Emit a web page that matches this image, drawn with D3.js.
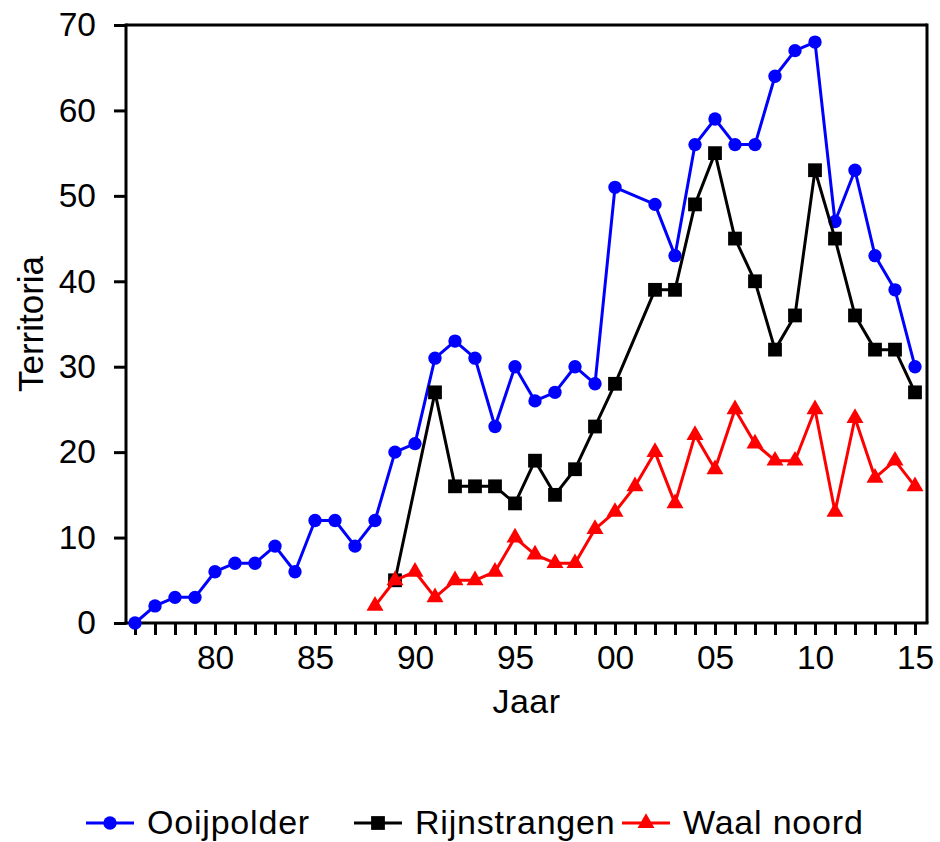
<!DOCTYPE html>
<html>
<head>
<meta charset="utf-8">
<script src="https://cdn.jsdelivr.net/npm/d3@7"></script>
<style>
html,body{margin:0;padding:0;background:#fff;}
svg{display:block;font-family:"Liberation Sans",Arial,sans-serif;}
</style>
</head>
<body>
<svg id="chart" width="940" height="842"></svg>
<script>
const years = [1976,1977,1978,1979,1980,1981,1982,1983,1984,1985,1986,1987,1988,1989,1990,1991,1992,1993,1994,1995,1996,1997,1998,1999,2000,2001,2002,2003,2004,2005,2006,2007,2008,2009,2010,2011,2012,2013,2014,2015];
const ooijpolder = [0,2,3,3,6,7,7,9,6,12,12,9,12,20,21,31,33,31,23,30,26,27,30,28,51,null,49,43,56,59,56,56,64,67,68,47,53,43,39,30];
const rijnstrangen = [null,null,null,null,null,null,null,null,null,null,null,null,null,5,null,27,16,16,16,14,19,15,18,23,28,null,39,39,49,55,45,40,32,36,53,45,36,32,32,27];
const waalNoord = [null,null,null,null,null,null,null,null,null,null,null,null,2,5,6,3,5,5,6,10,8,7,7,11,13,16,20,14,22,18,25,21,19,19,25,13,24,17,19,16];
const seriesNames = ["Ooijpolder","Rijnstrangen","Waal noord"];
const yTicks = [0,10,20,30,40,50,60,70];
const xLabelYears = [1980,1985,1990,1995,2000,2005,2010,2015];

const seriesData = [ooijpolder, rijnstrangen, waalNoord];
const colors = ["#0000ff","#000000","#ff0000"];
const symbols = [d3.symbolCircle, d3.symbolSquare, d3.symbolTriangle];
const symSizes = [140, 190, 125];

const svg = d3.select("#chart");
const L = 126, R = 927, T = 25, B = 623;
const x = d3.scaleLinear().domain([1975.55, 2015.6]).range([L, R]);
const y = d3.scaleLinear().domain([0, 70]).range([B, T]);

// frame top & right
svg.append("line").attr("x1", L).attr("x2", R).attr("y1", T).attr("y2", T)
  .attr("stroke", "#000").attr("stroke-width", 3);
svg.append("line").attr("x1", R).attr("x2", R).attr("y1", T - 1.5).attr("y2", B)
  .attr("stroke", "#000").attr("stroke-width", 3);

// axes
const xAxis = d3.axisBottom(x).tickValues(years).tickSize(12).tickPadding(10)
  .tickFormat(d => xLabelYears.includes(d) ? String(d % 100).padStart(2, "0") : "");
const gx = svg.append("g").attr("transform", `translate(0,${B})`).call(xAxis);
gx.select(".domain").attr("d", `M${L - 1.5},0H${R + 1.5}`).attr("stroke-width", 3);
gx.selectAll(".tick line").attr("stroke-width", 3);
gx.selectAll("text").attr("font-size", 33.5).attr("fill", "#000").attr("font-family", '"Liberation Sans",Arial,sans-serif');

const yAxis = d3.axisLeft(y).tickValues(yTicks).tickSize(12).tickPadding(18);
const gy = svg.append("g").attr("transform", `translate(${L},0)`).call(yAxis);
gy.select(".domain").attr("d", `M0,${T - 1.5}V${B + 1.5}`).attr("stroke-width", 3);
gy.selectAll(".tick line").attr("stroke-width", 3);
gy.selectAll("text").attr("font-size", 33.5).attr("fill", "#000").attr("font-family", '"Liberation Sans",Arial,sans-serif');

// axis titles
svg.append("text").attr("x", (L + R) / 2).attr("y", 713).attr("text-anchor", "middle")
  .attr("font-size", 34).attr("letter-spacing", 0.5).text("Jaar");
svg.append("text").attr("transform", `translate(43,${(T + B) / 2}) rotate(-90)`)
  .attr("text-anchor", "middle").attr("font-size", 35).text("Territoria");

// series
const line = d3.line().x(d => x(d.year)).y(d => y(d.value));
seriesData.forEach((arr, i) => {
  const pts = years.map((yr, k) => ({year: yr, value: arr[k]})).filter(d => d.value !== null);
  const g = svg.append("g");
  g.append("path").datum(pts).attr("d", line).attr("fill", "none")
    .attr("stroke", colors[i]).attr("stroke-width", 3).attr("stroke-linejoin", "round");
  g.selectAll("path.m").data(pts).enter().append("path").attr("class", "m")
    .attr("transform", d => `translate(${x(d.year)},${y(d.value)})`)
    .attr("d", d3.symbol().type(symbols[i]).size(symSizes[i]))
    .attr("fill", colors[i]);
});

// legend
const legY = 823;
seriesNames.forEach((name, i) => {
  const x0 = 86 + i * 268;
  const g = svg.append("g");
  g.append("line").attr("x1", x0).attr("x2", x0 + 48).attr("y1", legY).attr("y2", legY)
    .attr("stroke", colors[i]).attr("stroke-width", 3);
  g.append("path").attr("transform", `translate(${x0 + 24},${legY})`)
    .attr("d", d3.symbol().type(symbols[i]).size(symSizes[i])).attr("fill", colors[i]);
  g.append("text").attr("x", x0 + 61).attr("y", 834).attr("font-size", 34)
    .attr("letter-spacing", 0.8).text(name);
});
</script>
</body>
</html>
